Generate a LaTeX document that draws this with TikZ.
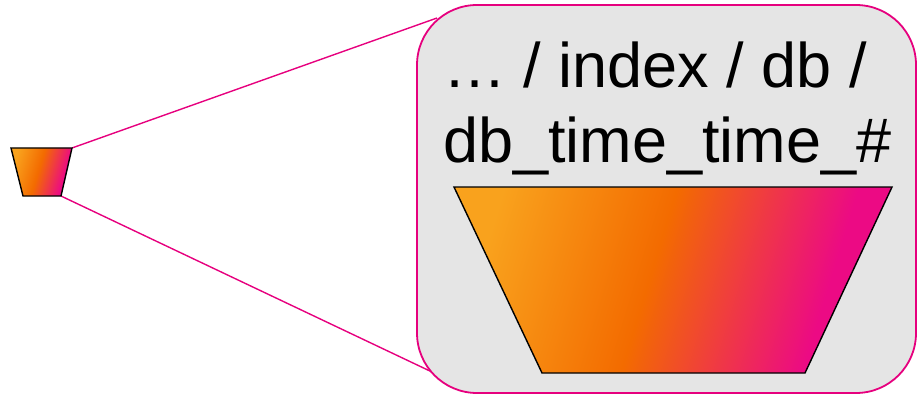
\documentclass[tikz,border=0pt]{standalone}
\usepackage{fontspec}
\setmainfont{Liberation Sans}
\definecolor{cA}{HTML}{F9A21D}
\definecolor{cB}{HTML}{F36B00}
\definecolor{cC}{HTML}{EC0A84}
\definecolor{pinkline}{HTML}{E6007E}
\definecolor{boxfill}{HTML}{E5E5E5}
\pgfdeclarehorizontalshading{brand}{100bp}{color(0bp)=(cA); color(25bp)=(cA); color(47bp)=(cB); color(70bp)=(cC); color(100bp)=(cC)}
\tikzset{
  funnel/.style={shading=brand, shading angle=-17, draw=black, line width=1.4pt, line join=miter},
  zoomline/.style={draw=pinkline, line width=1.4pt},
  callout/.style={draw=pinkline, line width=1.8pt, fill=boxfill, rounded corners=60pt},
  lbl/.style={font=\fontsize{63}{75}\selectfont, inner sep=0pt, anchor=base west}
}
\begin{document}
\begin{tikzpicture}[x=1pt,y=-1pt]
\useasboundingbox (0,0) rectangle (917,398);
% small funnel corners
\coordinate (s1) at (11,148);
\coordinate (s2) at (72,148);
\coordinate (s3) at (61,196);
\coordinate (s4) at (23,196);
% connector ends on callout border
\coordinate (e1) at (437,18);
\coordinate (e2) at (432,372);
\draw[zoomline] (s2) -- (e1);
\draw[zoomline] (s3) -- (e2);
% callout box
\draw[callout] (417,5) rectangle (916,393);
% small funnel
\path[funnel] (s1) -- (s2) -- (s3) -- (s4) -- cycle;
% big funnel
\coordinate (b1) at (454,187);
\coordinate (b2) at (892,187);
\coordinate (b3) at (805,373);
\coordinate (b4) at (542,373);
\path[funnel] (b1) -- (b2) -- (b3) -- (b4) -- cycle;
% text
\node[lbl] (line1) at (443,88) {… / index / db /};
\node[lbl] (line2) at (443,163) {db\_time\_time\_\#};
\end{tikzpicture}
\end{document}
